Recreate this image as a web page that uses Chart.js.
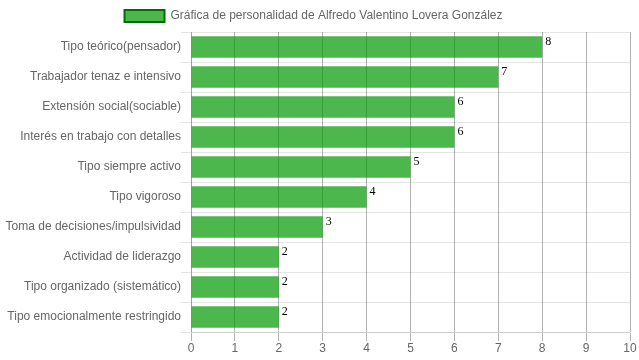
<!DOCTYPE html>
<html><head><meta charset="utf-8">
<script src="https://cdn.jsdelivr.net/npm/chart.js@4"></script>
<style>html,body{margin:0;padding:0;background:#fff}#wrap{width:639px;height:360px}</style>
</head><body><div id="wrap"><canvas id="c"></canvas></div>
<script>
const categories = ["Tipo teórico(pensador)","Trabajador tenaz e intensivo","Extensión social(sociable)","Interés en trabajo con detalles","Tipo siempre activo","Tipo vigoroso","Toma de decisiones/impulsividad","Actividad de liderazgo","Tipo organizado (sistemático)","Tipo emocionalmente restringido"];
const values = [8,7,6,6,5,4,3,2,2,2];
const xTicks = [0,1,2,3,4,5,6,7,8,9,10];
const seriesName = "Gráfica de personalidad de Alfredo Valentino Lovera González";

Chart.defaults.font.family = "'Liberation Sans', Arial, sans-serif";
Chart.defaults.font.size = 12;
Chart.defaults.color = '#666';

const valueLabels = {
  id: 'valueLabels',
  afterLayout(chart) {
    if (chart.legend) { chart.legend.left -= 6; chart.legend.right -= 6; }
  },
  afterDatasetsDraw(chart) {
    const ctx = chart.ctx;
    const meta = chart.getDatasetMeta(0);
    ctx.save();
    ctx.font = "12px 'Liberation Serif', 'Times New Roman', serif";
    ctx.fillStyle = '#000';
    ctx.textAlign = 'left';
    ctx.textBaseline = 'top';
    meta.data.forEach((bar, i) => {
      ctx.fillText(String(values[i]), bar.x + 3, bar.y - bar.height / 2);
    });
    ctx.restore();
  }
};

new Chart(document.getElementById('c'), {
  type: 'bar',
  data: {
    labels: categories,
    datasets: [{
      label: seriesName,
      data: values,
      backgroundColor: 'rgba(0,153,0,0.7)',
      borderWidth: 0
    }]
  },
  options: {
    indexAxis: 'y',
    responsive: true,
    maintainAspectRatio: false,
    animation: false,
    plugins: {
      legend: {
        labels: {
          generateLabels(chart) {
            return [{
              text: seriesName,
              fillStyle: 'rgba(0,153,0,0.7)',
              strokeStyle: 'rgb(0,110,0)',
              lineWidth: 2,
              datasetIndex: 0,
              fontColor: '#666'
            }];
          }
        }
      },
      tooltip: { enabled: false }
    },
    scales: {
      x: {
        min: xTicks[0], max: xTicks[xTicks.length - 1],
        ticks: { stepSize: 1, padding: 0 },
        grid: { color: 'rgba(0,0,0,0.3)', tickLength: 9 },
        afterFit(s) { s.height = 28; s.paddingRight = 9; s.paddingLeft = 0; }
      },
      y: {
        ticks: { padding: 0 },
        grid: { color: 'rgba(0,0,0,0.1)', tickLength: 10 },
        afterFit(s) { s.width = 191; s.paddingTop = 0; s.paddingBottom = 0; }
      }
    }
  },
  plugins: [valueLabels]
});
</script></body></html>
